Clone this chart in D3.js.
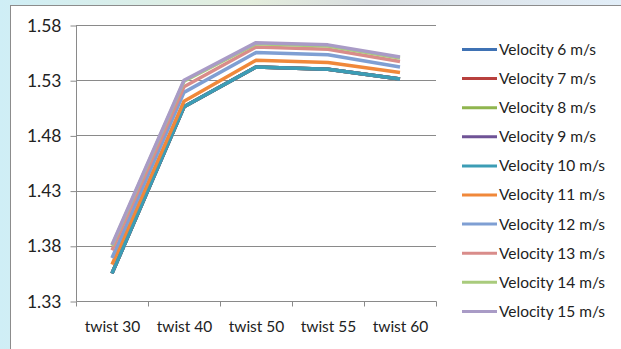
<!DOCTYPE html>
<html>
<head>
<meta charset="utf-8">
<script src="https://cdn.jsdelivr.net/npm/d3@7"></script>
<style>
  html, body { margin: 0; padding: 0; background: #ffffff; }
  svg { display: block; }
  text { font-family: Lato, "Open Sans", sans-serif; fill: #222222; }
</style>
</head>
<body>
<svg id="chart" width="621" height="349"></svg>
<script>
// Twist angle categories along the x axis
const categories = ["twist 30", "twist 40", "twist 50", "twist 55", "twist 60"];

// Series names and colours (Excel-style palette)
const seriesNames = [
  "Velocity 6 m/s", "Velocity 7 m/s", "Velocity 8 m/s", "Velocity 9 m/s", "Velocity 10 m/s",
  "Velocity 11 m/s", "Velocity 12 m/s", "Velocity 13 m/s", "Velocity 14 m/s", "Velocity 15 m/s"
];
const seriesColors = [
  "#3f72b4", "#b8403d", "#8fb54e", "#6f5396", "#3c9db5",
  "#f0883a", "#7f9fd3", "#d98c8a", "#a9cb7c", "#a99bc6"
];

// Values per series, one per twist angle
const v6  = [1.355, 1.506, 1.542, 1.540, 1.531];
const v7  = [1.355, 1.506, 1.542, 1.540, 1.531];
const v8  = [1.355, 1.506, 1.542, 1.540, 1.531];
const v9  = [1.355, 1.506, 1.542, 1.540, 1.531];
const v10 = [1.355, 1.506, 1.542, 1.540, 1.531];
const v11 = [1.363, 1.511, 1.548, 1.546, 1.537];
const v12 = [1.369, 1.519, 1.555, 1.553, 1.542];
const v13 = [1.376, 1.524, 1.560, 1.558, 1.547];
const v14 = [1.380, 1.529, 1.563, 1.561, 1.550];
const v15 = [1.381, 1.530, 1.564, 1.562, 1.551];
const seriesValues = [v6, v7, v8, v9, v10, v11, v12, v13, v14, v15];

// Y axis ticks
const yTicks = [1.33, 1.38, 1.43, 1.48, 1.53, 1.58];

const svg = d3.select("#chart");

// Backdrop outside the chart area
const defs = svg.append("defs");
const grad = defs.append("linearGradient").attr("id", "bg").attr("x1", 0).attr("y1", 0).attr("x2", 1).attr("y2", 0);
grad.append("stop").attr("offset", "0%").attr("stop-color", "#cfeef6");
grad.append("stop").attr("offset", "40%").attr("stop-color", "#e4eedd");
grad.append("stop").attr("offset", "60%").attr("stop-color", "#d9dde0");
grad.append("stop").attr("offset", "100%").attr("stop-color", "#e2eef8");
svg.append("rect").attr("width", 621).attr("height", 349).attr("fill", "url(#bg)");

// Chart area
svg.append("rect")
  .attr("x", 10.5).attr("y", 5.5).attr("width", 640).attr("height", 360)
  .attr("fill", "#ffffff").attr("stroke", "#8c8c8c").attr("stroke-width", 1);

const plot = { left: 76, right: 436, top: 25, bottom: 301 };

const x = d3.scaleBand().domain(categories).range([plot.left, plot.right]).padding(0);
const y = d3.scaleLinear().domain([1.33, 1.58]).range([plot.bottom, plot.top]);

// Horizontal gridlines
svg.append("g")
  .selectAll("line")
  .data(yTicks.slice(1))
  .join("line")
  .attr("x1", plot.left).attr("x2", plot.right)
  .attr("y1", d => Math.round(y(d)) + 0.5).attr("y2", d => Math.round(y(d)) + 0.5)
  .attr("stroke", "#8a8a8a").attr("stroke-width", 1);

// Y axis
const yAxis = svg.append("g")
  .attr("transform", `translate(${plot.left + 0.5},0.5)`)
  .call(d3.axisLeft(y).tickValues(yTicks).tickFormat(d3.format(".2f")).tickSize(6).tickPadding(9));
yAxis.select(".domain").attr("stroke", "#8a8a8a").attr("d", `M0,${plot.top}V${plot.bottom}`);
yAxis.selectAll(".tick line").attr("stroke", "#8a8a8a");
yAxis.selectAll(".tick text").attr("font-size", 17.5).attr("font-family", "Lato, sans-serif").attr("fill", "#222222");

// X axis
const xAxis = svg.append("g")
  .attr("transform", `translate(0.5,${plot.bottom + 0.5})`)
  .call(d3.axisBottom(x).tickSize(0).tickPadding(19));
xAxis.select(".domain").attr("stroke", "#8a8a8a").attr("d", `M${plot.left},0H${plot.right}`);
xAxis.selectAll(".tick text").attr("font-size", 15.5).attr("font-family", "Lato, sans-serif").attr("fill", "#222222");
// Tick marks at category boundaries
xAxis.append("g")
  .selectAll("line")
  .data(d3.range(categories.length + 1))
  .join("line")
  .attr("x1", i => Math.round(plot.left + i * x.step()))
  .attr("x2", i => Math.round(plot.left + i * x.step()))
  .attr("y1", 0).attr("y2", 5)
  .attr("stroke", "#8a8a8a");

// Series lines
const line = d3.line()
  .x((d, i) => x(categories[i]) + x.bandwidth() / 2)
  .y(d => y(d));

svg.append("g")
  .selectAll("path")
  .data(seriesValues)
  .join("path")
  .attr("d", d => line(d))
  .attr("fill", "none")
  .attr("stroke", (d, i) => seriesColors[i])
  .attr("stroke-width", 3.5)
  .attr("stroke-linejoin", "round");

// Legend
const legend = svg.append("g");
const rowY = i => 49.5 + i * 29.1;
legend.selectAll("line")
  .data(seriesNames)
  .join("line")
  .attr("x1", 462).attr("x2", 497)
  .attr("y1", (d, i) => rowY(i)).attr("y2", (d, i) => rowY(i))
  .attr("stroke", (d, i) => seriesColors[i])
  .attr("stroke-width", 3);
legend.selectAll("text")
  .data(seriesNames)
  .join("text")
  .attr("x", 499)
  .attr("y", (d, i) => rowY(i))
  .attr("dy", "0.35em")
  .attr("font-size", 15.5)
  .text(d => d);
</script>
</body>
</html>
